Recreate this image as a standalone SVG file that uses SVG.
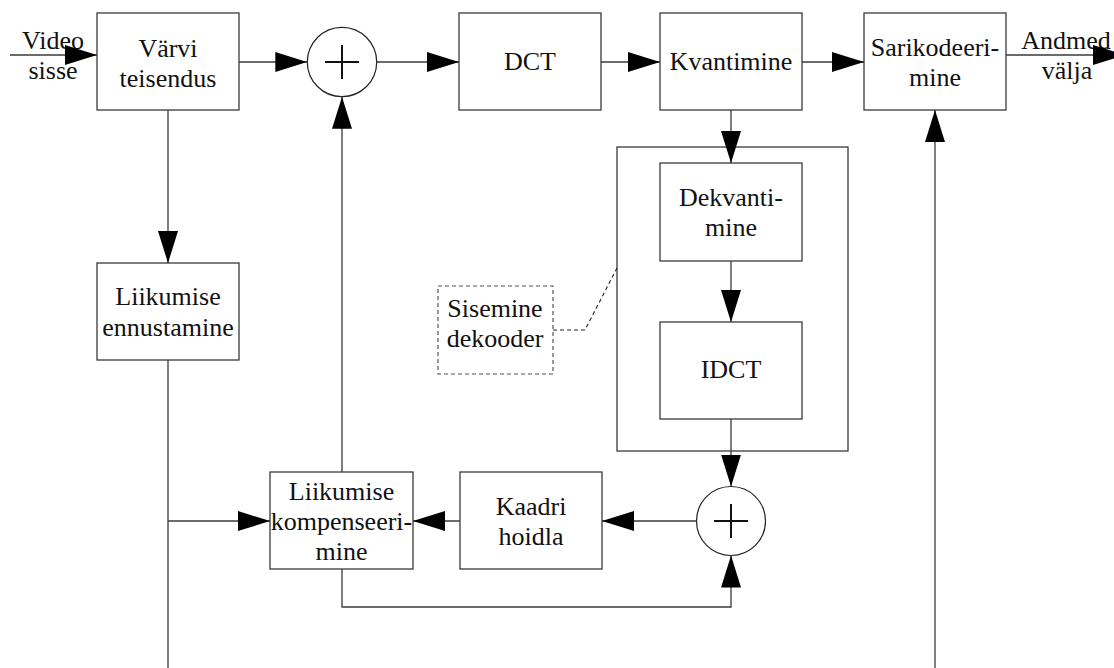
<svg xmlns="http://www.w3.org/2000/svg" width="1114" height="668" viewBox="0 0 1114 668">
  <style>
    .box { fill: #ffffff; stroke: #3a3a3a; stroke-width: 1.3; }
    .frame { fill: none; stroke: #3a3a3a; stroke-width: 1.3; }
    .note { fill: #ffffff; stroke: #555555; stroke-width: 1.2; stroke-dasharray: 4 3; }
    .sum { fill: #ffffff; stroke: #222222; stroke-width: 1.2; }
    .plus { stroke: #111111; stroke-width: 2; }
    .wire { fill: none; stroke: #3a3a3a; stroke-width: 1.3; }
    .arrow { marker-end: url(#head); }
    .leader { fill: none; stroke: #222222; stroke-width: 1.1; stroke-dasharray: 4 3; }
    text { font-family: "Liberation Serif", "Times New Roman", serif; font-size: 26px; fill: #111111; text-anchor: middle; }
  </style>
  <defs>
    <marker id="head" markerUnits="userSpaceOnUse" markerWidth="32" markerHeight="20" refX="32" refY="10" orient="auto">
      <path d="M0,0 L32,10 L0,20 Z" fill="#000000"/>
    </marker>
  </defs>

  <rect width="1114" height="668" fill="#ffffff"/>

  <!-- processing blocks -->
  <g id="colour-transform">
    <rect class="box" x="97" y="13" width="142" height="97"/>
    <text x="168" y="56.5">Värvi</text>
    <text x="168" y="87">teisendus</text>
  </g>

  <g id="sum-top">
    <circle class="sum" cx="342" cy="62" r="34.7"/>
    <line class="plus" x1="325" y1="62" x2="359" y2="62"/>
    <line class="plus" x1="342" y1="45" x2="342" y2="79"/>
  </g>

  <g id="dct">
    <rect class="box" x="459" y="13" width="142" height="97"/>
    <text x="530" y="70">DCT</text>
  </g>

  <g id="quantiser">
    <rect class="box" x="660" y="13" width="142" height="97"/>
    <text x="731" y="70">Kvantimine</text>
  </g>

  <g id="entropy-coder">
    <rect class="box" x="864" y="13" width="142" height="97"/>
    <text x="935" y="56">Sarikodeeri-</text>
    <text x="935" y="86">mine</text>
  </g>

  <g id="motion-estimation">
    <rect class="box" x="97" y="263" width="142" height="97"/>
    <text x="168" y="305">Liikumise</text>
    <text x="168" y="336">ennustamine</text>
  </g>

  <g id="inner-decoder">
    <rect class="frame" x="617" y="147" width="231" height="304"/>
  </g>

  <g id="dequantiser">
    <rect class="box" x="660" y="163" width="142" height="98"/>
    <text x="731" y="206">Dekvanti-</text>
    <text x="731" y="236">mine</text>
  </g>

  <g id="idct">
    <rect class="box" x="660" y="322" width="142" height="97"/>
    <text x="731" y="378">IDCT</text>
  </g>

  <g id="sum-bottom">
    <circle class="sum" cx="731" cy="521" r="34.5"/>
    <line class="plus" x1="714" y1="521" x2="748" y2="521"/>
    <line class="plus" x1="731" y1="504" x2="731" y2="538"/>
  </g>

  <g id="frame-store">
    <rect class="box" x="460" y="472" width="142" height="97"/>
    <text x="531" y="515">Kaadri</text>
    <text x="531" y="545">hoidla</text>
  </g>

  <g id="motion-compensation">
    <rect class="box" x="270" y="472" width="143" height="97"/>
    <text x="341.5" y="500">Liikumise</text>
    <text x="341.5" y="530">kompenseeri-</text>
    <text x="341.5" y="560">mine</text>
  </g>

  <g id="inner-decoder-label">
    <rect class="note" x="438" y="286" width="115" height="88"/>
    <text x="495" y="317">Sisemine</text>
    <text x="495" y="347">dekooder</text>
  </g>

  <g id="io-labels">
    <text x="53" y="49">Video</text>
    <text x="53" y="79">sisse</text>
    <text x="1066" y="49">Andmed</text>
    <text x="1067" y="79">välja</text>
  </g>

  <!-- signal paths -->
  <g id="connectors">
    <line class="wire arrow" x1="10" y1="55" x2="97" y2="55"/>
    <line class="wire arrow" x1="239" y1="62" x2="307.3" y2="62"/>
    <line class="wire arrow" x1="376.7" y1="62" x2="459" y2="62"/>
    <line class="wire arrow" x1="601" y1="62" x2="660" y2="62"/>
    <line class="wire arrow" x1="802" y1="62" x2="864" y2="62"/>
    <line class="wire arrow" x1="1006" y1="55" x2="1125" y2="55"/>

    <line class="wire arrow" x1="168" y1="110" x2="168" y2="263"/>
    <line class="wire arrow" x1="731" y1="110" x2="731" y2="163"/>
    <line class="wire arrow" x1="731" y1="261" x2="731" y2="322"/>
    <line class="wire arrow" x1="731" y1="419" x2="731" y2="486.5"/>

    <line class="wire arrow" x1="696.5" y1="521" x2="602" y2="521"/>
    <line class="wire arrow" x1="460" y1="521" x2="413" y2="521"/>

    <line class="wire" x1="168" y1="360" x2="168" y2="668"/>
    <line class="wire arrow" x1="168" y1="521" x2="270" y2="521"/>

    <line class="wire arrow" x1="342" y1="472" x2="342" y2="96.7"/>
    <polyline class="wire arrow" points="342,569 342,607 731,607 731,555.5"/>

    <line class="wire arrow" x1="935" y1="668" x2="935" y2="110"/>

    <polyline class="leader" points="553,330 585,330 617,268"/>
  </g>
</svg>
